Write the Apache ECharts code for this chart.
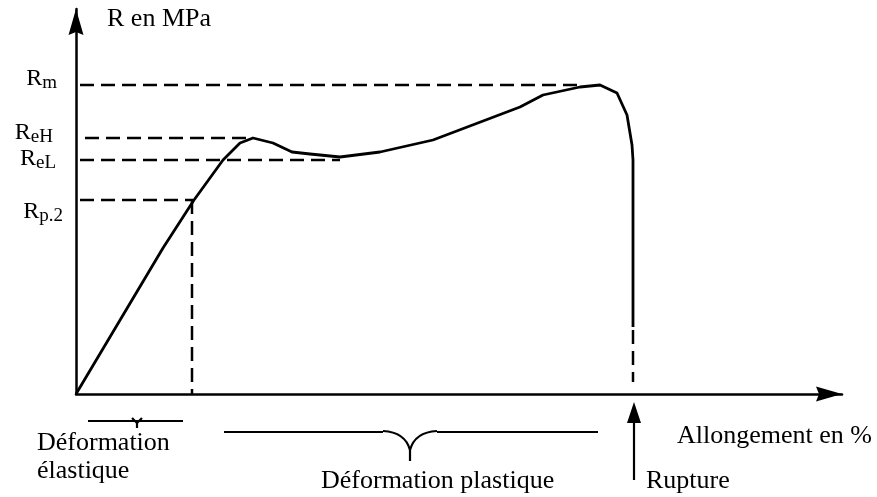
<!DOCTYPE html>
<html>
<head>
<meta charset="utf-8">
<script src="https://cdn.jsdelivr.net/npm/echarts@6/dist/echarts.min.js"></script>
<style>html,body{margin:0;padding:0;background:#fff}#c{width:877px;height:497px}</style>
</head>
<body>
<div id="c"></div>
<script>
// Stress-strain curve (arbitrary units)
const strain = [0, 87, 118, 147, 164, 177, 197, 216, 234, 264, 304, 357, 444, 467, 504, 524, 541, 551, 556, 557, 557];
const stress = [0, 146, 194, 234, 251, 256, 251, 242, 240, 237, 242, 254, 287, 299, 307, 309, 301, 279, 249, 234, 67];

// Characteristic levels
const levelNames = ['m', 'eH', 'eL', 'p.2'];
const levelValues = [309, 256, 234, 194];
const levelStart = [4, 9, 4, 4];
const levelEnd = [507, 172, 264, 117];

// Rupture (dashed drop) and Rp0.2 vertical
const ruptureX = 557;
const ruptureDash = [64, 12];
const rpX = 116;

const xMax = 766, yMax = 385;

// label styling tweaks (distance to axis, vertical shift)
const labelDist = [19, 23, 20, 13];
const labelShift = [-6.5, -5, -1, 12];

const FONT = '"Liberation Serif", "Times New Roman", serif';
const dash = [14, 7];

const series = [];
series.push({
  type: 'line', data: strain.map((x, i) => [x, stress[i]]),
  showSymbol: false, smooth: false, silent: true,
  lineStyle: { color: '#000', width: 2.8, join: 'round' }, z: 5
});
levelValues.forEach((v, i) => {
  series.push({
    type: 'line', data: [[levelStart[i], v], [levelEnd[i], v]],
    showSymbol: false, silent: true,
    lineStyle: { color: '#000', width: 2.5, type: dash }
  });
});
series.push({
  type: 'line', data: [[rpX, levelValues[3]], [rpX, 0]],
  showSymbol: false, silent: true,
  lineStyle: { color: '#000', width: 2.5, type: dash }
});
series.push({
  type: 'line', data: [[ruptureX, ruptureDash[0]], [ruptureX, ruptureDash[1]]],
  showSymbol: false, silent: true,
  lineStyle: { color: '#000', width: 2.5, type: dash }
});
series.push({
  type: 'scatter', silent: true, symbolSize: 0,
  itemStyle: { color: '#000', opacity: 1 },
  data: levelValues.map((v, i) => ({
    value: [0, v],
    label: {
      show: true, position: 'left', distance: labelDist[i], offset: [0, labelShift[i]],
      color: '#000', fontFamily: FONT, fontSize: 24, opacity: 1,
      formatter: '{big|R}{sub|' + levelNames[i] + '}',
      rich: {
        big: { fontFamily: FONT, fontSize: 24, lineHeight: 28, color: '#000' },
        sub: { fontFamily: FONT, fontSize: 19, lineHeight: 17, verticalAlign: 'bottom', color: '#000' }
      }
    }
  }))
});

const arrowPath = 'path://M7.5,0 L15,26 L7.5,23 L0,26 Z';
const K = { stroke: '#000', lineWidth: 2.2, fill: null };
const T = (text, x, y) => ({ type: 'text', x: x, y: y, style: { text: text, fontFamily: FONT, fontSize: 26, fill: '#000', verticalAlign: 'middle', align: 'left' } });

const option = {
  animation: false,
  backgroundColor: '#fff',
  grid: { left: 76, right: 35, top: 9, bottom: 103, containLabel: false },
  xAxis: {
    type: 'value', min: 0, max: xMax,
    axisLine: { onZero: false, lineStyle: { color: '#000', width: 2.5 }, symbol: ['none', arrowPath], symbolSize: [16, 26], symbolOffset: [0, -13] },
    axisTick: { show: false }, axisLabel: { show: false }, splitLine: { show: false }
  },
  yAxis: {
    type: 'value', min: 0, max: yMax,
    axisLine: { onZero: false, lineStyle: { color: '#000', width: 2.5 }, symbol: ['none', arrowPath], symbolSize: [15, 26], symbolOffset: [0, -13] },
    axisTick: { show: false }, axisLabel: { show: false }, splitLine: { show: false }
  },
  series: series,
  graphic: [
    T('R en MPa', 107, 19.5),
    T('Déformation', 37, 443),
    T('élastique', 37, 471),
    T('Déformation plastique', 321, 481),
    T('Rupture', 646, 481),
    T('Allongement en %', 677, 436),
    { type: 'line', shape: { x1: 88, y1: 421, x2: 183, y2: 421 }, style: K },
    { type: 'polyline', shape: { points: [[132, 418], [137, 423], [142, 418]] }, style: K },
    { type: 'line', shape: { x1: 137, y1: 423, x2: 137, y2: 428 }, style: K },
    { type: 'line', shape: { x1: 224, y1: 432, x2: 383, y2: 432 }, style: K },
    { type: 'bezierCurve', shape: { x1: 383, y1: 431, cpx1: 405, cpy1: 432, x2: 410, y2: 450 }, style: K },
    { type: 'line', shape: { x1: 410, y1: 450, x2: 410, y2: 461 }, style: K },
    { type: 'bezierCurve', shape: { x1: 410, y1: 450, cpx1: 415, cpy1: 432, x2: 437, y2: 431 }, style: K },
    { type: 'line', shape: { x1: 437, y1: 432, x2: 598, y2: 432 }, style: K },
    { type: 'line', shape: { x1: 634, y1: 480, x2: 634, y2: 418 }, style: K },
    { type: 'polygon', shape: { points: [[634, 402], [627, 423], [641, 423]] }, style: { fill: '#000' } }
  ]
};

const chart = echarts.init(document.getElementById('c'), null, { renderer: 'canvas' });
chart.setOption(option);
</script>
</body>
</html>
